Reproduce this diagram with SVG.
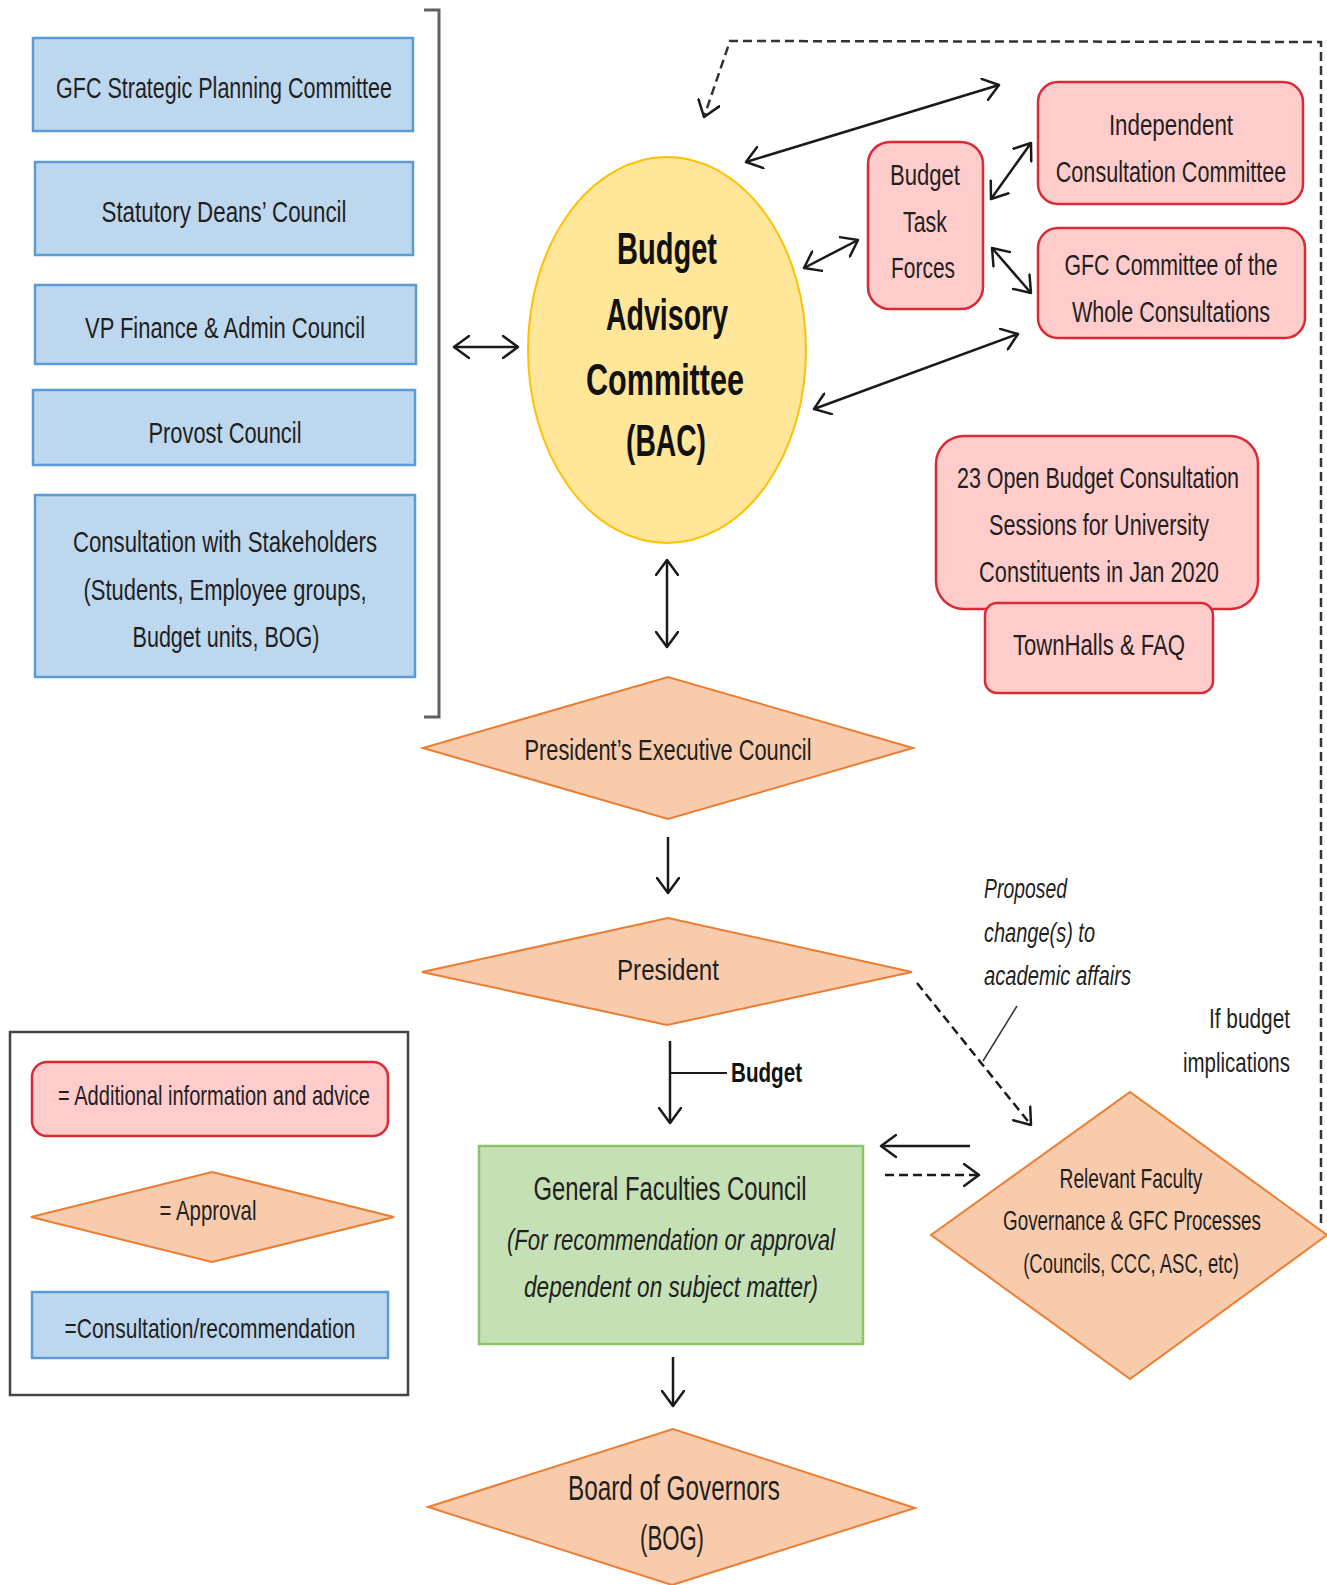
<svg xmlns="http://www.w3.org/2000/svg" width="1327" height="1585" viewBox="0 0 1327 1585">
<style>
text{font-family:"Liberation Sans",Arial,sans-serif;fill:#1f1f1f;text-anchor:middle}
.blue{fill:#BDD7EE;stroke:#5B9BD5;stroke-width:2.5}
.pink{fill:#FFCCCC;stroke:#D92B35;stroke-width:2.5}
.orange{fill:#F8CBAD;stroke:#ED7D31;stroke-width:2}
.green{fill:#C5E0B4;stroke:#8CC46A;stroke-width:2.5}
.t30{font-size:30px}
.t29{font-size:29px}
.t28{font-size:28px}
.t26{font-size:27px}
.bac{font-size:44px;font-weight:bold;fill:#111}
.it{font-style:italic}
.ln{fill:none;stroke:#1a1a1a;stroke-width:2.5}
.dash{fill:none;stroke:#333;stroke-width:2.5;stroke-dasharray:9 5}
</style>
<defs>
<marker id="ah" viewBox="0 0 18 24" markerWidth="18" markerHeight="24" markerUnits="userSpaceOnUse" refX="16" refY="12" orient="auto-start-reverse">
<path d="M1,1 L16,12 L1,23" fill="none" stroke="#1a1a1a" stroke-width="2.5" stroke-linecap="round" stroke-linejoin="round"/>
</marker>
</defs>

<!-- bracket -->
<path d="M424,10 L439,10 L439,717 L424,717" fill="none" stroke="#606060" stroke-width="3"/>

<g id="gfc-spc"><rect class="blue" x="33" y="38" width="380" height="93"/><text class="t30" x="224" y="98" textLength="336" lengthAdjust="spacingAndGlyphs">GFC Strategic Planning Committee</text></g>
<g id="sdc"><rect class="blue" x="35" y="162" width="378" height="93"/><text class="t30" x="224" y="222" textLength="245" lengthAdjust="spacingAndGlyphs">Statutory Deans’ Council</text></g>
<g id="vpf"><rect class="blue" x="35" y="285" width="381" height="79"/><text class="t30" x="225" y="338" textLength="280" lengthAdjust="spacingAndGlyphs">VP Finance &amp; Admin Council</text></g>
<g id="provost"><rect class="blue" x="33" y="390" width="382" height="75"/><text class="t30" x="225" y="443" textLength="153" lengthAdjust="spacingAndGlyphs">Provost Council</text></g>
<g id="stakeholders"><rect class="blue" x="35" y="495" width="380" height="182"/>
<text class="t30" x="225" y="552" textLength="304" lengthAdjust="spacingAndGlyphs">Consultation with Stakeholders</text>
<text class="t30" x="225" y="600" textLength="283" lengthAdjust="spacingAndGlyphs">(Students, Employee groups,</text>
<text class="t30" x="226" y="647" textLength="187" lengthAdjust="spacingAndGlyphs">Budget units, BOG)</text></g>

<g id="bac"><ellipse cx="667" cy="350" rx="139" ry="193" fill="#FFE699" stroke="#FFC000" stroke-width="2"/>
<text class="bac" x="667" y="264" textLength="100" lengthAdjust="spacingAndGlyphs">Budget</text>
<text class="bac" x="667" y="330" textLength="122" lengthAdjust="spacingAndGlyphs">Advisory</text>
<text class="bac" x="665" y="395" textLength="158" lengthAdjust="spacingAndGlyphs">Committee</text>
<text class="bac" x="666" y="456" textLength="80" lengthAdjust="spacingAndGlyphs">(BAC)</text></g>

<g id="btf"><rect class="pink" x="868" y="142" width="115" height="167" rx="22"/>
<text class="t30" x="925" y="185" textLength="70" lengthAdjust="spacingAndGlyphs">Budget</text>
<text class="t30" x="925" y="232" textLength="44" lengthAdjust="spacingAndGlyphs">Task</text>
<text class="t30" x="923" y="278" textLength="64" lengthAdjust="spacingAndGlyphs">Forces</text></g>
<g id="icc"><rect class="pink" x="1038" y="82" width="265" height="122" rx="20"/>
<text class="t29" transform="translate(1171,135) scale(0.77,1)">Independent</text>
<text class="t29" transform="translate(1171,182) scale(0.745,1)">Consultation Committee</text></g>
<g id="gfc-whole"><rect class="pink" x="1038" y="228" width="267" height="110" rx="20"/>
<text class="t29" transform="translate(1171,275) scale(0.735,1)">GFC Committee of the</text>
<text class="t29" transform="translate(1171,322) scale(0.745,1)">Whole Consultations</text></g>
<g id="open-sessions"><rect class="pink" x="936" y="436" width="322" height="173" rx="28"/>
<text class="t29" transform="translate(1098,488) scale(0.742,1)">23 Open Budget Consultation</text>
<text class="t29" transform="translate(1099,535) scale(0.746,1)">Sessions for University</text>
<text class="t29" transform="translate(1099,582) scale(0.752,1)">Constituents in Jan 2020</text></g>
<g id="townhalls"><rect class="pink" x="985" y="603" width="228" height="90" rx="12"/>
<text class="t30" x="1099" y="655" textLength="172" lengthAdjust="spacingAndGlyphs">TownHalls &amp; FAQ</text></g>

<g id="pec"><polygon class="orange" points="423,748 668,677 913,748 668,819"/>
<text class="t30" x="668" y="760" textLength="287" lengthAdjust="spacingAndGlyphs">President’s Executive Council</text></g>
<g id="president"><polygon class="orange" points="422,972 668,918 912,972 667,1025"/>
<text class="t30" x="668" y="980" textLength="102" lengthAdjust="spacingAndGlyphs">President</text></g>
<g id="gfc"><rect class="green" x="479" y="1146" width="384" height="198"/>
<text style="font-size:33px" x="670" y="1200" textLength="273" lengthAdjust="spacingAndGlyphs">General Faculties Council</text>
<text class="t30 it" x="671" y="1250" textLength="328" lengthAdjust="spacingAndGlyphs">(For recommendation or approval</text>
<text class="t30 it" x="671" y="1297" textLength="294" lengthAdjust="spacingAndGlyphs">dependent on subject matter)</text></g>
<g id="bog"><polygon class="orange" points="428,1507 673,1429 915,1508 672,1585"/>
<text style="font-size:35px" x="674" y="1500" textLength="212" lengthAdjust="spacingAndGlyphs">Board of Governors</text>
<text style="font-size:35px" x="672" y="1550" textLength="64" lengthAdjust="spacingAndGlyphs">(BOG)</text></g>
<g id="relevant"><polygon class="orange" points="931,1235 1130,1092 1327,1235 1130,1379"/>
<text class="t26" transform="translate(1131,1188) scale(0.711,1)">Relevant Faculty</text>
<text class="t26" transform="translate(1132,1230) scale(0.696,1)">Governance &amp; GFC Processes</text>
<text class="t26" transform="translate(1131,1273) scale(0.685,1)">(Councils, CCC, ASC, etc)</text></g>

<g id="labels">
<text class="t26 it" style="text-anchor:start" x="984" y="898" textLength="83" lengthAdjust="spacingAndGlyphs">Proposed</text>
<text class="t26 it" style="text-anchor:start" x="984" y="942" textLength="111" lengthAdjust="spacingAndGlyphs">change(s) to</text>
<text class="t26 it" style="text-anchor:start" x="984" y="985" textLength="147" lengthAdjust="spacingAndGlyphs">academic affairs</text>
<text class="t26" style="text-anchor:end" x="1290" y="1028" textLength="81" lengthAdjust="spacingAndGlyphs">If budget</text>
<text class="t26" style="text-anchor:end" x="1290" y="1072" textLength="107" lengthAdjust="spacingAndGlyphs">implications</text>
<text class="t28" style="text-anchor:start;font-weight:bold;fill:#111" x="731" y="1082" textLength="71" lengthAdjust="spacingAndGlyphs">Budget</text>
</g>

<g id="connectors">
<line class="ln" x1="454" y1="347" x2="518" y2="347" marker-start="url(#ah)" marker-end="url(#ah)"/>
<line class="ln" x1="746" y1="162" x2="999" y2="85" marker-start="url(#ah)" marker-end="url(#ah)"/>
<line class="ln" x1="804" y1="268" x2="858" y2="240" marker-start="url(#ah)" marker-end="url(#ah)"/>
<line class="ln" x1="991" y1="199" x2="1031" y2="143" marker-start="url(#ah)" marker-end="url(#ah)"/>
<line class="ln" x1="992" y1="248" x2="1031" y2="293" marker-start="url(#ah)" marker-end="url(#ah)"/>
<line class="ln" x1="814" y1="409" x2="1018" y2="334" marker-start="url(#ah)" marker-end="url(#ah)"/>
<line class="ln" x1="667" y1="560" x2="667" y2="647" marker-start="url(#ah)" marker-end="url(#ah)"/>
<line class="ln" x1="668" y1="837" x2="668" y2="893" marker-end="url(#ah)"/>
<line class="ln" x1="670" y1="1041" x2="670" y2="1123" marker-end="url(#ah)"/>
<line class="ln" style="stroke-width:2" x1="671" y1="1073" x2="727" y2="1073"/>
<line class="ln" x1="673" y1="1357" x2="673" y2="1406" marker-end="url(#ah)"/>
<line class="ln" x1="970" y1="1146" x2="881" y2="1146" marker-end="url(#ah)"/>
<line class="ln" style="stroke-dasharray:9 5" x1="885" y1="1175" x2="979" y2="1175" marker-end="url(#ah)"/>
<line class="ln" style="stroke-dasharray:9 5" x1="917" y1="983" x2="1031" y2="1125" marker-end="url(#ah)"/>
<line x1="1017" y1="1006" x2="983" y2="1061" stroke="#333" stroke-width="1.5"/>
<polyline class="dash" points="1321,1223 1321,42 730,41 704,117" marker-end="url(#ah)"/>
</g>

<g id="legend">
<rect x="10" y="1032" width="398" height="363" fill="#fff" stroke="#444" stroke-width="2.5"/>
<rect class="pink" x="32" y="1062" width="356" height="74" rx="15"/>
<text class="t28" x="214" y="1105" textLength="312" lengthAdjust="spacingAndGlyphs">= Additional information and advice</text>
<polygon class="orange" points="31,1217 212,1172 394,1217 212,1262"/>
<text class="t28" x="208" y="1220" textLength="97" lengthAdjust="spacingAndGlyphs">= Approval</text>
<rect class="blue" x="32" y="1292" width="356" height="66"/>
<text class="t28" x="210" y="1338" textLength="291" lengthAdjust="spacingAndGlyphs">=Consultation/recommendation</text>
</g>
</svg>
